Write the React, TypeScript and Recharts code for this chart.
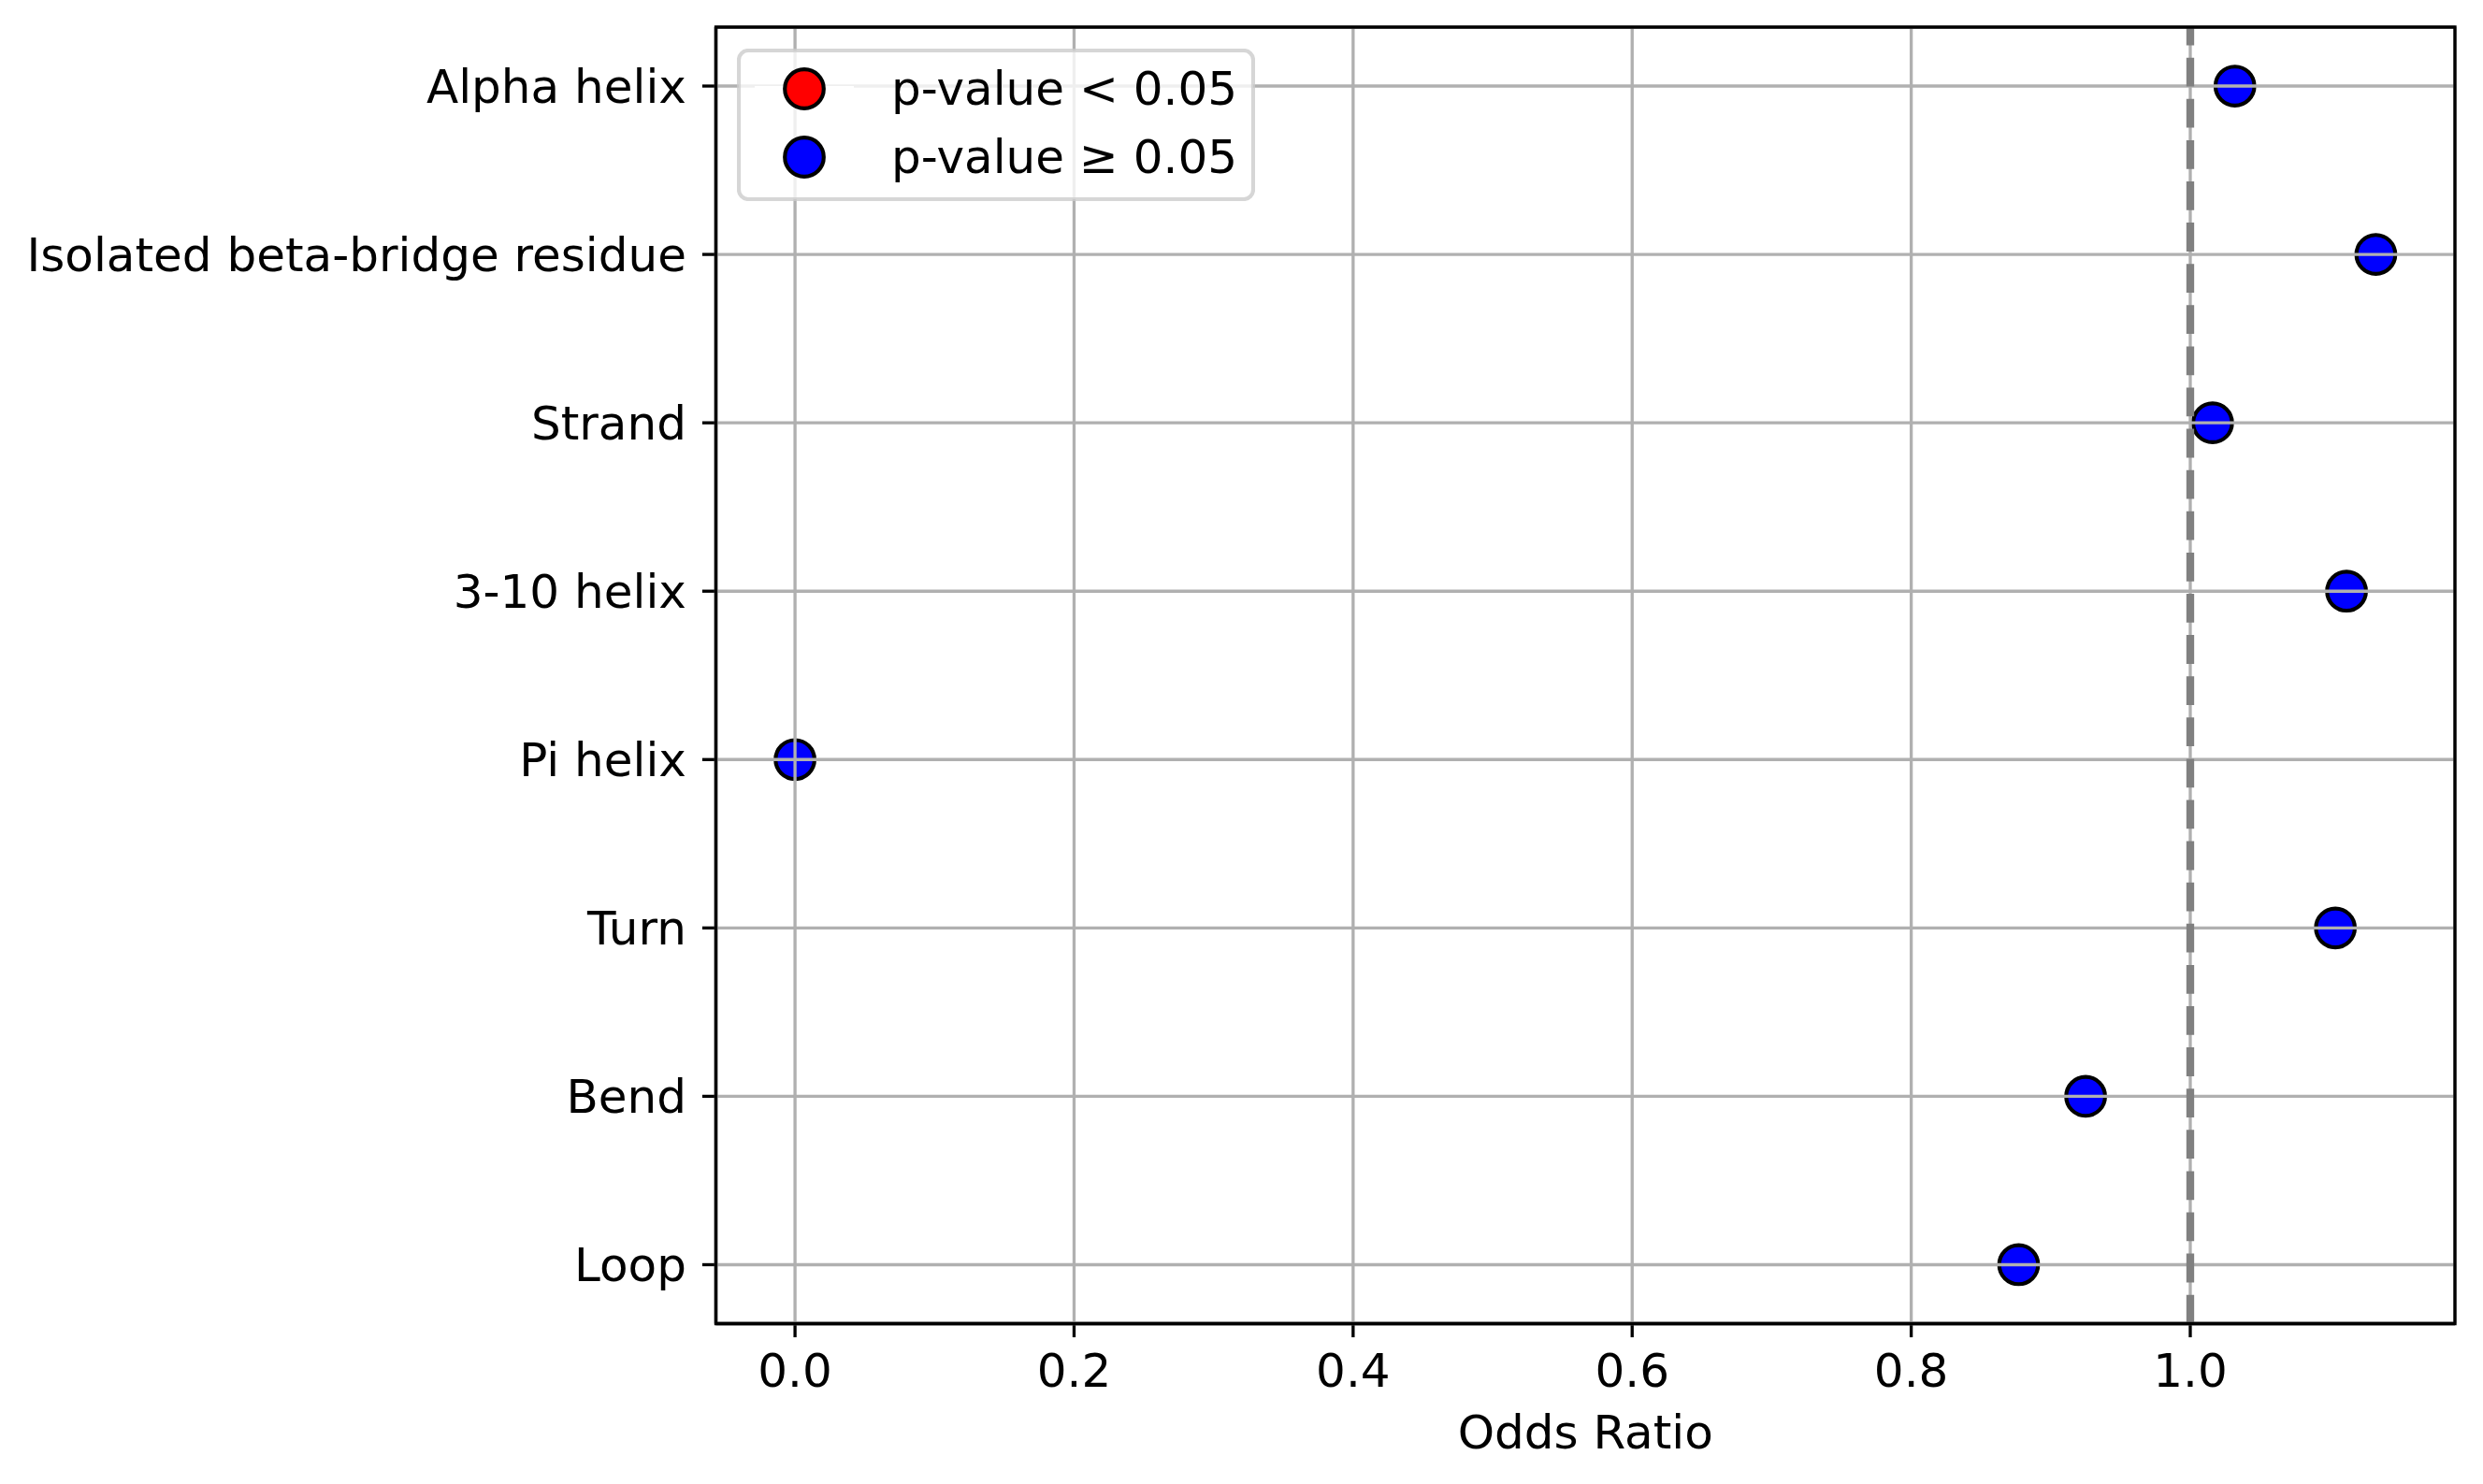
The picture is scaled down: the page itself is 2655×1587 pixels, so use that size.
import React from 'react';
import {
  CartesianGrid,
  Legend,
  ReferenceArea,
  ReferenceLine,
  Scatter,
  ScatterChart,
  XAxis,
  YAxis,
} from 'recharts';

// secondary structure classes, top to bottom
const categories = [
  'Alpha helix',
  'Isolated beta-bridge residue',
  'Strand',
  '3-10 helix',
  'Pi helix',
  'Turn',
  'Bend',
  'Loop',
];
const oddsRatios = [1.032, 1.133, 1.016, 1.112, 0.0, 1.104, 0.925, 0.877];
// none of the classes reach p < 0.05
const significant = [false, false, false, false, false, false, false, false];

const xTicks = [0.0, 0.2, 0.4, 0.6, 0.8, 1.0];
const xDomain = [-0.0567, 1.1897];
const yDomain = [-0.35, 7.35];
const xLabel = 'Odds Ratio';
const legendItems = [
  { label: 'p-value < 0.05', color: '#ff0000' },
  { label: 'p-value \u2265 0.05', color: '#0000ff' },
];

const FONT = '"DejaVu Sans", sans-serif';
const LW = 3.33; // 0.8pt @ 300dpi
const TICK = 14.6;
const R = 20.8;
const EDGE = 4.17;

const rows = categories.map((name, i) => ({
  name,
  y: i,
  x: oddsRatios[i],
  sig: significant[i],
}));

function Dot(props: any) {
  const { cx, cy, payload } = props;
  if (cx == null || cy == null) return null;
  return (
    <circle
      cx={cx}
      cy={cy}
      r={R}
      fill={payload.sig ? legendItems[0].color : legendItems[1].color}
      stroke="#000"
      strokeWidth={EDGE}
    />
  );
}

function DashedLine(props: any) {
  const { x1, y1, x2, y2 } = props;
  // matplotlib starts the dash pattern at the bottom of the axes
  const yb = Math.max(y1, y2);
  const yt = Math.min(y1, y2);
  return (
    <line
      x1={x1}
      y1={yb}
      x2={x2}
      y2={yt}
      stroke="#808080"
      strokeWidth={8.33}
      strokeDasharray="30.8 13.3"
    />
  );
}

function LegendBox() {
  return (
    <svg width={554} height={163} style={{ display: 'block' }}>
      <rect
        x={2}
        y={2}
        width={550}
        height={159}
        rx={10}
        ry={10}
        fill="rgba(255,255,255,0.8)"
        stroke="rgba(204,204,204,0.8)"
        strokeWidth={EDGE}
      />
      {legendItems.map((it, i) => {
        const cy = 43 + i * 73;
        return (
          <g key={it.label}>
            <line x1={19} y1={cy} x2={125} y2={cy} stroke="#fff" strokeWidth={6.25} />
            <circle cx={72} cy={cy} r={R} fill={it.color} stroke="#000" strokeWidth={EDGE} />
            <text x={165} y={cy + 17} fontSize={50} fontFamily={FONT} fill="#000">
              {it.label}
            </text>
          </g>
        );
      })}
    </svg>
  );
}

export default function App() {
  const tickStyle = { fontSize: 50, fill: '#000', fontFamily: FONT };
  const line = { stroke: '#000', strokeWidth: LW };
  return (
    <div style={{ position: 'absolute', left: 0, top: 0, background: '#fff' }}>
      <ScatterChart width={2655} height={1587} margin={{ top: 29, right: 30, bottom: 0, left: 0 }}>
        <XAxis
          type="number"
          dataKey="x"
          domain={xDomain}
          allowDataOverflow
          ticks={xTicks}
          interval={0}
          tickFormatter={(v: number) => v.toFixed(1)}
          height={171.5}
          stroke="#000"
          tickSize={TICK}
          tickMargin={17}
          tick={tickStyle}
          tickLine={line}
          axisLine={line}
          label={{ value: xLabel, position: 'insideBottom', offset: 38, fill: '#000', fontSize: 50, fontFamily: FONT }}
        />
        <YAxis
          type="number"
          dataKey="y"
          domain={yDomain}
          allowDataOverflow
          reversed
          ticks={categories.map((_, i) => i)}
          interval={0}
          tickFormatter={(v: number) => categories[v] ?? ''}
          width={765.5}
          stroke="#000"
          tickSize={TICK}
          tickMargin={17}
          tick={tickStyle}
          tickLine={line}
          axisLine={line}
        />
        <Scatter data={rows} shape={Dot} isAnimationActive={false} />
        <CartesianGrid stroke="#b0b0b0" strokeWidth={LW} zIndex={700} />
        <ReferenceLine x={1} shape={DashedLine} zIndex={750} />
        {/* axes frame (all four spines), above the grid */}
        <ReferenceArea
          x1={xDomain[0]}
          x2={xDomain[1]}
          y1={yDomain[0]}
          y2={yDomain[1]}
          fill="none"
          fillOpacity={0}
          stroke="#000"
          strokeWidth={LW}
          strokeOpacity={1}
          ifOverflow="visible"
          zIndex={800}
        />
        <Legend
          layout="vertical"
          align="center"
          verticalAlign="middle"
          content={() => <LegendBox />}
          wrapperStyle={{ left: 788, top: 52, width: 554, height: 163, margin: 0, padding: 0 }}
        />
      </ScatterChart>
    </div>
  );
}
